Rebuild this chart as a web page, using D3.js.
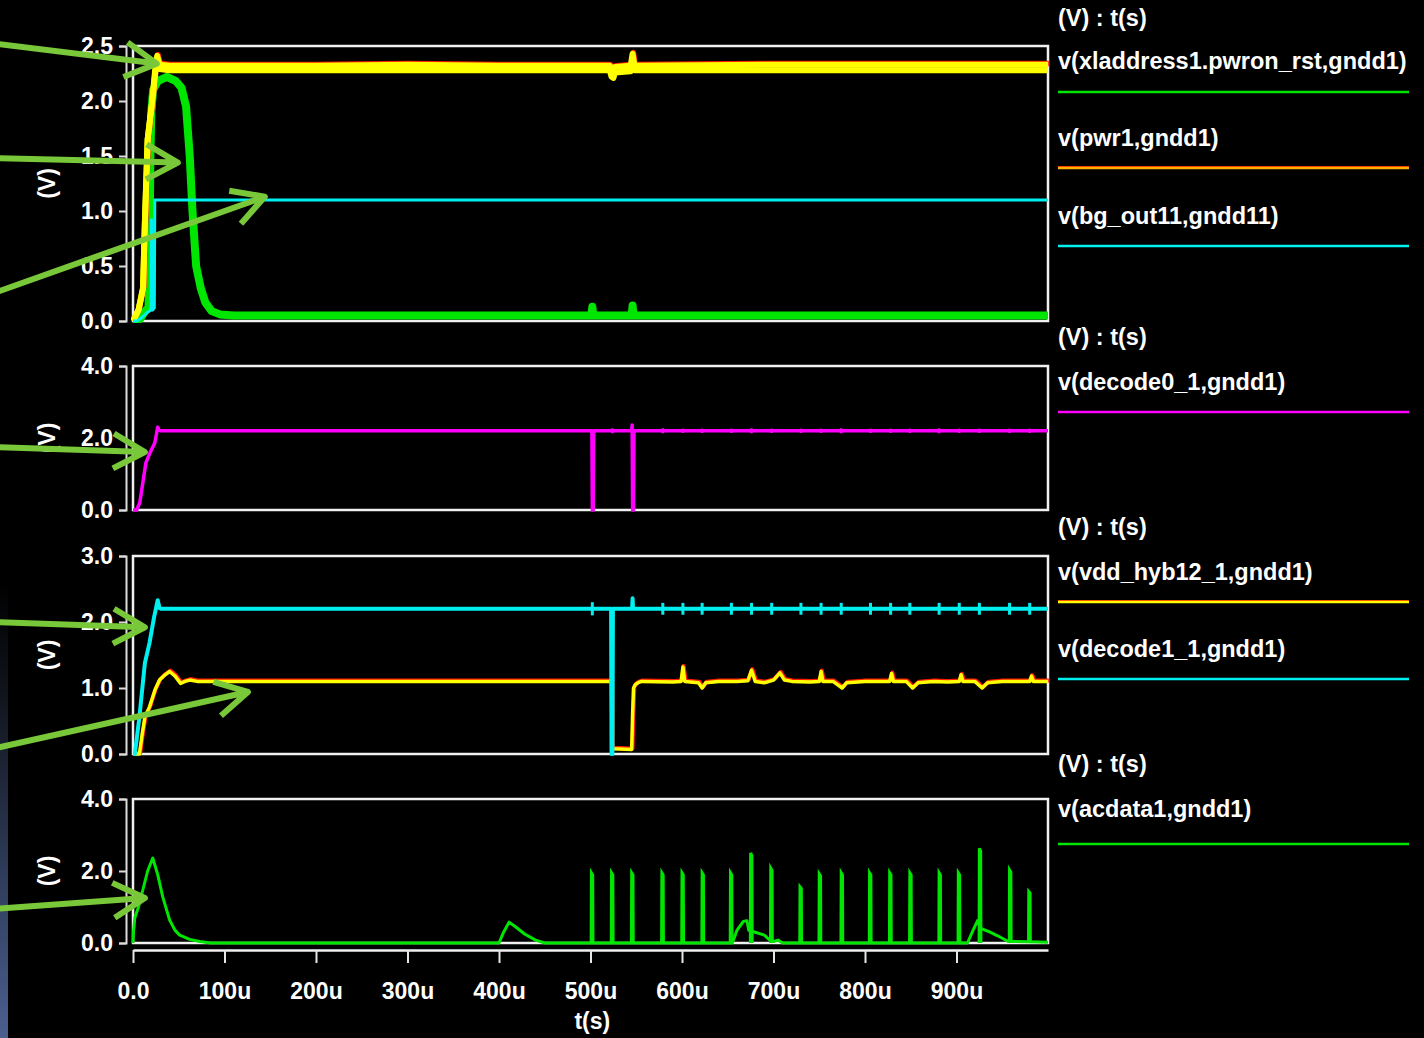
<!DOCTYPE html>
<html>
<head>
<meta charset="utf-8">
<script src="https://cdn.jsdelivr.net/npm/d3@7"></script>
<style>
  html, body { margin: 0; padding: 0; background: #000; }
  svg { display: block; }
</style>
</head>
<body>
<svg id="chart" width="1424" height="1038"></svg>
<script>
// ---- waveform data: [time in µs, volts] ----
// pwr1 shows as a band of two overlaid runs (low and high corner)
const pwr1Low = [[0,0],[6,0.1],[11,0.3],[13,0.9],[16,1.65],[21,2.0],[25,2.3],[26.5,2.38],[29,2.29],[40,2.28],[200,2.28],[400,2.28],[521,2.28],[523,2.22],[525,2.21],[527,2.26],[544,2.27],[546,2.38],[548,2.28],[1000,2.28]];
const pwr1High = [[0,0],[6,0.1],[11,0.3],[13,0.9],[16,1.65],[21,2.0],[25,2.35],[26.5,2.41],[29,2.33],[40,2.32],[200,2.32],[300,2.33],[400,2.32],[521,2.32],[523,2.3],[525,2.3],[527,2.31],[544,2.32],[546,2.43],[548,2.32],[700,2.33],[900,2.33],[1000,2.33]];

const pwronRst = [[0,0],[8,0.02],[14,0.1],[17,0.12],[18,0.6],[19,1.5],[20,1.9],[22,2.1],[27,2.18],[37,2.22],[47,2.18],[53,2.12],[58,1.95],[62,1.5],[65,1.0],[69,0.5],[74,0.3],[79,0.17],[86,0.09],[95,0.06],[110,0.05],[501,0.05],[502,0.13],[503,0.05],[545,0.05],[546,0.14],[547,0.05],[1000,0.05]];

const bgOut11 = [[0,0],[4,0],[8,0.02],[12,0.05],[16,0.08],[19.8,0.1],[20.2,0.92],[20.8,0.12],[21.5,0.1],[23.3,0.12],[23.8,1.1],[1000,1.1]];

const decode0 = [[0,0],[4,0],[7.4,0.2],[10.7,0.75],[14,1.3],[18.4,1.58],[23.8,1.86],[27,2.3],[28.5,2.22],[30,2.2],[501.5,2.2],[502,0],[503,0],[503.5,2.2],[545,2.2],[545.5,2.36],[546,0],[547,0],[547.5,2.2],[1000,2.2]];
const decode0GlitchT = [524,579,601,622,654,676,698,730,752,774,806,828,849,881,903,925,958,980];
const decode0GlitchV = [0.07,0.07,0.06,0.06,0.06,0.07,0.06,0.06,0.06,0.07,0.06,0.06,0.06,0.07,0.06,0.06,0.06,0.06];

const decode1 = [[0,0],[2,0],[7,0.56],[13,1.38],[18,1.68],[23,2.07],[27,2.33],[29,2.21],[31,2.2],[522.5,2.2],[523,0],[524,0],[524.5,2.2],[545.5,2.2],[546,2.36],[546.5,2.2],[1000,2.2]];
const decode1GlitchT = [502,579,601,622,654,676,698,730,752,774,806,828,849,881,903,925,958,980];
const decode1GlitchV = [0.1,0.09,0.09,0.09,0.09,0.09,0.09,0.09,0.09,0.09,0.09,0.09,0.09,0.09,0.09,0.09,0.09,0.09];

const vddHyb12 = [[0,0],[7,0],[10,0.3],[13,0.56],[18,0.71],[24,0.97],[29,1.12],[35,1.2],[40,1.25],[46,1.18],[52,1.07],[57,1.1],[62,1.12],[70,1.1],[523,1.1],[523.5,0.08],[545,0.07],[546,0.6],[547,1.0],[549,1.05],[552,1.08],[556,1.1],[590,1.09],[599,1.1],[601,1.32],[603,1.1],[618,1.08],[622,1.0],[626,1.08],[640,1.1],[660,1.1],[672,1.11],[676,1.27],[680,1.1],[690,1.08],[700,1.12],[707,1.23],[712,1.12],[720,1.1],[740,1.09],[750,1.1],[752,1.25],[754,1.1],[765,1.1],[775,1.0],[780,1.08],[800,1.1],[827,1.1],[829,1.22],[831,1.1],[845,1.1],[852,1.0],[858,1.08],[875,1.1],[890,1.09],[903,1.1],[905,1.2],[907,1.1],[920,1.1],[928,1.0],[934,1.08],[950,1.1],[980,1.1],[982,1.18],[984,1.1],[1000,1.1]];

const acdata1 = [[0,0],[0.5,0.3],[2,0.7],[6,1.0],[11,1.5],[16,2.0],[21.6,2.36],[27,1.9],[32.5,1.28],[40,0.64],[46,0.35],[51,0.22],[62,0.1],[73,0.04],[85,0],[400,0],[405,0.3],[411,0.58],[418,0.45],[428,0.25],[440,0.08],[450,0],[655,0],[660,0.35],[667,0.6],[671,0.62],[673,0.35],[680,0.3],[690,0.22],[697,0.05],[701,0.05],[705,0.08],[710,0],[912,0],[918,0.35],[923,0.62],[927,0.4],[935,0.32],[945,0.2],[956,0.05],[1000,0.02]];
const acdataPulseT = [501,523,545,578,600,622,653,675,697,729,750,774,805,827,849,881,902,925,958,979];
const acdataPulseV = [1.95,1.95,1.95,1.95,1.95,1.95,1.95,2.5,2.08,1.56,1.92,1.95,1.95,1.95,1.95,1.95,1.95,2.63,2.03,1.43];

// ---- axis ticks and labels ----
const timeTicks = [0,100,200,300,400,500,600,700,800,900];
const yTicks = [[0,0.5,1,1.5,2,2.5],[0,2,4],[0,1,2,3],[0,2,4]];
const yMax = [2.5, 4, 3, 4];
const legendTitle = "(V) : t(s)";
const legendNames = [
  ["v(xladdress1.pwron_rst,gndd1)", "v(pwr1,gndd1)", "v(bg_out11,gndd11)"],
  ["v(decode0_1,gndd1)"],
  ["v(vdd_hyb12_1,gndd1)", "v(decode1_1,gndd1)"],
  ["v(acdata1,gndd1)"]
];

// ---- colours ----
const GREEN = "#00e600", YELLOW = "#ffff00", RED = "#ff1a00", CYAN = "#00f0f0", MAGENTA = "#ff00ff";
const ARROW = "#78c83a";
const legendColors = [[GREEN, YELLOW, CYAN], [MAGENTA], [YELLOW, CYAN], [GREEN]];

// ---- layout ----
const W = 1424, H = 1038;
const plotLeft = 133, plotRight = 1048, yAxisX = 126;
const panelBox = [[46,321],[366,510],[556,754],[799,943]];
const legendX0 = 1058, legendX1 = 1409;
const legendTitleY = [26, 345, 535, 772];
const legendRowY = [[69,146,224],[390],[580,657],[817]];
const legendLineY = [[92,168,246],[412],[602,679],[844]];

const FONT = "'Liberation Sans', Arial, Helvetica, sans-serif";
const TICK_SIZE = 23, LEGEND_SIZE = 23.5;

const svg = d3.select("#chart");
svg.append("rect").attr("width", W).attr("height", H).attr("fill", "#000");

// dark blue strip along the left edge
const defs = svg.append("defs");
const grad = defs.append("linearGradient").attr("id", "edge").attr("x1", 0).attr("y1", 0).attr("x2", 0).attr("y2", 1);
grad.append("stop").attr("offset", "0").attr("stop-color", "#000");
grad.append("stop").attr("offset", "0.25").attr("stop-color", "#10141c");
grad.append("stop").attr("offset", "1").attr("stop-color", "#4b5f90");
svg.append("rect").attr("x", 0).attr("y", 580).attr("width", 8).attr("height", H - 580).attr("fill", "url(#edge)");

const x = d3.scaleLinear().domain([0, 1000]).range([plotLeft, plotRight]);
const ys = panelBox.map((b, i) => d3.scaleLinear().domain([0, yMax[i]]).range([b[1], b[0]]));

panelBox.forEach((b, i) => {
  defs.append("clipPath").attr("id", "clip" + i)
    .append("rect").attr("x", plotLeft - 2).attr("y", b[0] - 6).attr("width", plotRight - plotLeft + 4).attr("height", b[1] - b[0] + 8);
});

const lineOf = (y) => d3.line().x(d => x(d[0])).y(d => y(d[1]));

// panel frames and y axes
panelBox.forEach((b, i) => {
  const y = ys[i];
  svg.append("rect")
    .attr("x", plotLeft).attr("y", b[0]).attr("width", plotRight - plotLeft).attr("height", b[1] - b[0])
    .attr("fill", "none").attr("stroke", "#f0f0f0").attr("stroke-width", 2.5);

  const ax = svg.append("g").attr("transform", `translate(${yAxisX},0)`)
    .call(d3.axisLeft(y).tickValues(yTicks[i]).tickSize(7).tickSizeOuter(7).tickPadding(6).tickFormat(d3.format(".1f")));
  ax.select(".domain").attr("stroke", "#dcdcdc").attr("stroke-width", 2);
  ax.selectAll(".tick line").attr("stroke", "#dcdcdc").attr("stroke-width", 2);
  ax.selectAll(".tick text").attr("fill", "#fff").attr("font-family", FONT).attr("font-weight", "bold").attr("font-size", TICK_SIZE);

  svg.append("text")
    .attr("transform", `translate(47,${(b[0] + b[1]) / 2}) rotate(-90)`)
    .attr("text-anchor", "middle").attr("dominant-baseline", "central")
    .attr("fill", "#fff").attr("font-family", FONT).attr("font-weight", "bold").attr("font-size", 23)
    .text("(V)");
});

// time axis
const xa = svg.append("g").attr("transform", "translate(0,950)")
  .call(d3.axisBottom(x).tickValues(timeTicks).tickSize(13).tickSizeOuter(0).tickPadding(20)
    .tickFormat(d => d === 0 ? "0.0" : d + "u"));
xa.select(".domain").attr("stroke", "#f0f0f0").attr("stroke-width", 2.5);
xa.selectAll(".tick line").attr("stroke", "#e6e6e6").attr("stroke-width", 2);
xa.selectAll(".tick text").attr("fill", "#fff").attr("font-family", FONT).attr("font-weight", "bold").attr("font-size", TICK_SIZE);
svg.append("text").attr("x", x(502)).attr("y", 1029).attr("text-anchor", "middle")
  .attr("fill", "#fff").attr("font-family", FONT).attr("font-weight", "bold").attr("font-size", TICK_SIZE).text("t(s)");

// helpers
function trace(panel, data, color, width, opts = {}) {
  svg.append("path").datum(data)
    .attr("clip-path", `url(#clip${panel})`)
    .attr("d", lineOf(ys[panel]))
    .attr("fill", "none").attr("stroke", color).attr("stroke-width", width)
    .attr("stroke-linejoin", "round").attr("stroke-linecap", "butt")
    .attr("transform", opts.shift ? `translate(${opts.shift[0]},${opts.shift[1]})` : null);
}
function glitches(panel, level, times, amps, color, width) {
  const y = ys[panel];
  svg.append("g").attr("clip-path", `url(#clip${panel})`).selectAll("line").data(times).join("line")
    .attr("x1", t => x(t)).attr("x2", t => x(t))
    .attr("y1", (t, k) => y(level + amps[k])).attr("y2", (t, k) => y(level - amps[k]))
    .attr("stroke", color).attr("stroke-width", width);
}
function pulses(panel, times, heights, color, width) {
  const y = ys[panel];
  const gen = lineOf(y);
  svg.append("g").attr("clip-path", `url(#clip${panel})`).selectAll("path").data(times).join("path")
    .attr("d", (t, k) => gen([[t - 0.3, 0], [t, heights[k]], [t + 1.4, heights[k] * 0.97], [t + 1.7, 0]]))
    .attr("fill", "none").attr("stroke", color).attr("stroke-width", width).attr("stroke-linejoin", "miter");
}

// panel 1
trace(0, pwronRst, GREEN, 8);
trace(0, pwr1High, RED, 5.5, { shift: [0.8, -1.2] });
trace(0, pwr1High, YELLOW, 6);
trace(0, pwr1Low, YELLOW, 6);
trace(0, bgOut11, CYAN, 3);

// panel 2
glitches(1, 2.2, decode0GlitchT, decode0GlitchV, MAGENTA, 2.5);
trace(1, decode0, MAGENTA, 3.5);

// panel 3
trace(2, vddHyb12, RED, 4, { shift: [0.8, -1] });
trace(2, vddHyb12, YELLOW, 3.5);
glitches(2, 2.2, decode1GlitchT, decode1GlitchV, CYAN, 3);
trace(2, decode1, CYAN, 4);

// panel 4
trace(3, acdata1, GREEN, 3);
pulses(3, acdataPulseT, acdataPulseV, GREEN, 3);

// legends
legendNames.forEach((names, i) => {
  svg.append("text").attr("x", legendX0).attr("y", legendTitleY[i])
    .attr("fill", "#fff").attr("font-family", FONT).attr("font-weight", "bold").attr("font-size", LEGEND_SIZE)
    .text(legendTitle);
  names.forEach((name, k) => {
    svg.append("text").attr("x", legendX0).attr("y", legendRowY[i][k])
      .attr("fill", "#fff").attr("font-family", FONT).attr("font-weight", "bold").attr("font-size", LEGEND_SIZE)
      .text(name);
    const c = legendColors[i][k];
    if (c === YELLOW) {
      svg.append("line").attr("x1", legendX0).attr("x2", legendX1)
        .attr("y1", legendLineY[i][k] - 0.8).attr("y2", legendLineY[i][k] - 0.8)
        .attr("stroke", RED).attr("stroke-width", 2.5);
    }
    svg.append("line").attr("x1", legendX0).attr("x2", legendX1)
      .attr("y1", legendLineY[i][k]).attr("y2", legendLineY[i][k])
      .attr("stroke", c === YELLOW && i === 0 ? "#ffb000" : c).attr("stroke-width", 2.5);
  });
});

// annotation arrows: tail and tip in each panel's data coordinates
const arrowPanel = [0, 0, 0, 1, 2, 2, 3];
const arrowTail = [[-150, 2.52], [-150, 1.48], [-150, 0.26], [-150, 1.75], [-150, 2.0], [-150, 0.09], [-150, 0.95]];
const arrowTip = [[26, 2.34], [49, 1.44], [144, 1.13], [13, 1.61], [13, 1.92], [125.6, 0.94], [13, 1.25]];

arrowPanel.forEach((p, k) => {
  const y = ys[p];
  const x0 = x(arrowTail[k][0]), y0 = y(arrowTail[k][1]);
  const x1 = x(arrowTip[k][0]), y1 = y(arrowTip[k][1]);
  const ang = Math.atan2(y1 - y0, x1 - x0);
  const L = 36, half = 29 * Math.PI / 180;
  const a1 = [x1 - L * Math.cos(ang - half), y1 - L * Math.sin(ang - half)];
  const a2 = [x1 - L * Math.cos(ang + half), y1 - L * Math.sin(ang + half)];
  svg.append("path")
    .attr("d", `M${x0},${y0}L${x1},${y1}M${a1[0]},${a1[1]}L${x1},${y1}L${a2[0]},${a2[1]}`)
    .attr("fill", "none").attr("stroke", ARROW).attr("stroke-width", 6)
    .attr("stroke-linejoin", "round").attr("stroke-linecap", "butt");
});
</script>
</body>
</html>
